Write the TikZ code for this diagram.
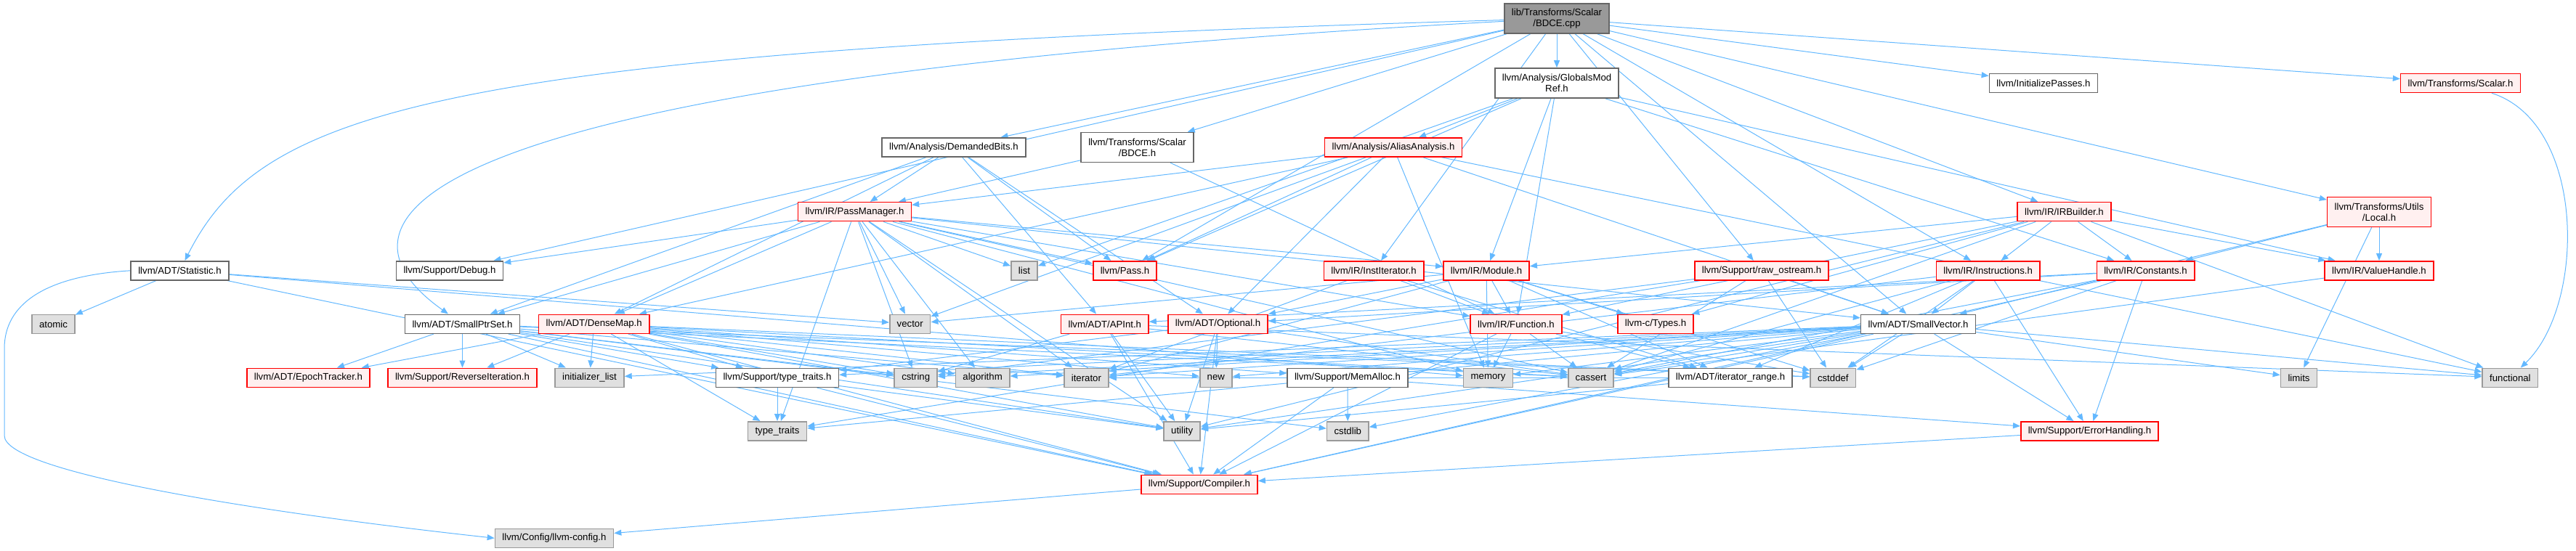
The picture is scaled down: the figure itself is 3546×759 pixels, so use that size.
\documentclass[tikz,border=0pt]{standalone}
\usepackage{fontspec}
\setmainfont{Liberation Sans}
\usetikzlibrary{arrows.meta,backgrounds}
\definecolor{edgeblue}{RGB}{99,184,255}
\definecolor{truncfill}{RGB}{255,240,240}
\definecolor{sysfill}{RGB}{224,224,224}
\definecolor{sysline}{RGB}{153,153,153}
\definecolor{hdrline}{RGB}{102,102,102}
\definecolor{srcfill}{RGB}{153,153,153}
\begin{document}
\begin{tikzpicture}[x=0.5pt,y=-0.5pt]
    \tikzstyle{box}=[rectangle, inner xsep=5pt, inner ysep=1pt, minimum height=13pt, line width=0.8pt, align=center, font=\fontsize{6.6}{7.5}\selectfont]
    \tikzstyle{hdr}=[box, draw=hdrline, fill=white]
    \tikzstyle{trunc}=[box, draw=red, fill=truncfill]
    \tikzstyle{sys}=[box, draw=sysline, fill=sysfill]
    \tikzstyle{srcfile}=[box, draw=hdrline, fill=srcfill, minimum height=20.5pt]
    \tikzstyle{inc}=[draw=edgeblue, line width=0.5pt, -{Triangle[length=5pt,width=4pt]}]
    \useasboundingbox (0,0) rectangle (3546,759);
    % the file itself
    \node[srcfile] (cpp) at (2143,25.5) {lib/Transforms/Scalar\\/BDCE.cpp};
    % rows of headers
    \node[hdr, minimum height=20.5pt] (gmr) at (2143,114.5) {llvm/Analysis/GlobalsMod\\Ref.h};
    \node[hdr] (initp) at (2813,114.5) {llvm/InitializePasses.h};
    \node[trunc] (tscalar) at (3387,114.5) {llvm/Transforms/Scalar.h};
    \node[hdr] (dbits) at (1313,203) {llvm/Analysis/DemandedBits.h};
    \node[hdr, minimum height=20.5pt] (bdceh) at (1565.5,203) {llvm/Transforms/Scalar\\/BDCE.h};
    \node[trunc] (aa) at (1918,203) {llvm/Analysis/AliasAnalysis.h};
    \node[trunc] (pm) at (1176.5,291.7) {llvm/IR/PassManager.h};
    \node[trunc] (irb) at (2841.5,291.7) {llvm/IR/IRBuilder.h};
    \node[trunc, minimum height=20.5pt] (local) at (3275,292) {llvm/Transforms/Utils\\/Local.h};
    \node[hdr] (stat) at (247.5,372.8) {llvm/ADT/Statistic.h};
    \node[hdr] (debug) at (619,372.8) {llvm/Support/Debug.h};
    \node[sys] (list) at (1410,372.8) {list};
    \node[trunc] (pass) at (1548.5,372.8) {llvm/Pass.h};
    \node[trunc] (instit) at (1891,372.8) {llvm/IR/InstIterator.h};
    \node[trunc] (module) at (2046,372.8) {llvm/IR/Module.h};
    \node[trunc] (rawos) at (2425,372.8) {llvm/Support/raw\_ostream.h};
    \node[trunc] (instr) at (2736.6,372.8) {llvm/IR/Instructions.h};
    \node[trunc] (consts) at (2953.5,372.8) {llvm/IR/Constants.h};
    \node[trunc] (vh) at (3275,372.8) {llvm/IR/ValueHandle.h};
    \node[sys] (atomic) at (73.5,446.3) {atomic};
    \node[hdr] (sptr) at (636.5,446.3) {llvm/ADT/SmallPtrSet.h};
    \node[trunc] (dmap) at (817.7,446.3) {llvm/ADT/DenseMap.h};
    \node[sys] (vector) at (1252.7,446.3) {vector};
    \node[trunc] (apint) at (1520.8,446.3) {llvm/ADT/APInt.h};
    \node[trunc] (optional) at (1676.5,446.3) {llvm/ADT/Optional.h};
    \node[trunc] (func) at (2087,446.3) {llvm/IR/Function.h};
    \node[trunc] (ctypes) at (2279,446.3) {llvm-c/Types.h};
    \node[hdr] (svec) at (2640.6,446.3) {llvm/ADT/SmallVector.h};
    \node[trunc] (epoch) at (424.4,520.3) {llvm/ADT/EpochTracker.h};
    \node[trunc] (reviter) at (636.5,520.3) {llvm/Support/ReverseIteration.h};
    \node[sys] (initlist) at (811.5,520.3) {initializer\_list};
    \node[hdr] (sttraits) at (1070,520.3) {llvm/Support/type\_traits.h};
    \node[sys] (cstring) at (1260.7,520.3) {cstring};
    \node[sys] (algorithm) at (1352.6,520.3) {algorithm};
    \node[sys] (iterator) at (1495.4,520.3) {iterator};
    \node[sys] (new) at (1673.8,520.3) {new};
    \node[hdr] (memalloc) at (1855,520.3) {llvm/Support/MemAlloc.h};
    \node[sys] (memory) at (2048.5,520.3) {memory};
    \node[sys] (cassert) at (2190,520.3) {cassert};
    \node[hdr] (itrange) at (2382,520.3) {llvm/ADT/iterator\_range.h};
    \node[sys] (cstddef) at (2523.3,520.3) {cstddef};
    \node[sys] (limits) at (3164.5,520.3) {limits};
    \node[sys] (functional) at (3455.4,520.3) {functional};
    \node[sys] (typetraits) at (1070,593.8) {type\_traits};
    \node[sys] (utility) at (1627.2,593.8) {utility};
    \node[sys] (cstdlib) at (1855.3,593.8) {cstdlib};
    \node[trunc] (errh) at (2876.5,593.8) {llvm/Support/ErrorHandling.h};
    \node[trunc] (compiler) at (1651,667.3) {llvm/Support/Compiler.h};
    \node[sys] (config) at (763,741.3) {llvm/Config/llvm-config.h};
    % include edges, under the boxes
    \begin{pgfonlayer}{background}
    % long edges that swing round the outside
    \draw[inc] (cpp) .. controls (600,70) and (360,150) .. (stat);
    \draw[inc] (cpp) .. controls (560,110) and (430,300) .. (sptr);
    \draw[inc] (stat.west) .. controls (60,380) and (6,420) .. (6,480) -- (6,600)
        .. controls (6,650) and (350,705) .. (config.west);
    \draw[inc] (tscalar) .. controls (3560,170) and (3560,420) .. (functional);
    \foreach \t in {bdceh,svec,dbits,gmr,irb,instit,instr,initp,pass,debug,rawos,tscalar,local}
        \draw[inc] (cpp) -- (\t);
    \foreach \t in {aa,consts,func,module,vh,pass,list}
        \draw[inc] (gmr) -- (\t);
    \foreach \t in {func,pm}
        \draw[inc] (bdceh) -- (\t);
    \foreach \t in {apint,dmap,optional,sptr,pm,pass}
        \draw[inc] (dbits) -- (\t);
    \foreach \t in {dmap,optional,svec,pm,pass,functional,memory,vector}
        \draw[inc] (aa) -- (\t);
    \foreach \t in {dmap,sptr,svec,func,module,pass,debug,cassert,cstring,iterator,list,memory,typetraits,utility,vector,algorithm}
        \draw[inc] (pm) -- (\t);
    \foreach \t in {atomic,compiler,memory,vector}
        \draw[inc] (stat) -- (\t);
    \foreach \t in {itrange,func,iterator}
        \draw[inc] (instit) -- (\t);
    \foreach \t in {ctypes,optional,itrange,func,cstddef,iterator,memory,vector}
        \draw[inc] (module) -- (\t);
    \foreach \t in {svec,cassert,cstddef,cstring,typetraits}
        \draw[inc] (rawos) -- (\t);
    \foreach \t in {svec,itrange,errh,cassert,cstddef,iterator}
        \draw[inc] (instr) -- (\t);
    \foreach \t in {apint,optional,compiler,errh,cassert,cstddef}
        \draw[inc] (consts) -- (\t);
    \foreach \t in {ctypes,consts,func,instr,module,vh,cassert,functional,utility}
        \draw[inc] (irb) -- (\t);
    \foreach \t in {consts,vh,svec,limits}
        \draw[inc] (local) -- (\t);
    \draw[inc] (vh) -- (cassert);
    \foreach \t in {epoch,reviter,initlist,sttraits,compiler,cstddef,cstdlib,cstring,iterator,utility,cassert}
        \draw[inc] (sptr) -- (\t);
    \foreach \t in {epoch,reviter,initlist,sttraits,compiler,memalloc,algorithm,cassert,cstddef,cstring,iterator,new,typetraits,utility}
        \draw[inc] (dmap) -- (\t);
    \foreach \t in {compiler,sttraits,algorithm,cassert,cstddef,cstdlib,cstring,functional,initlist,iterator,limits,memory,new,typetraits,utility,errh}
        \draw[inc] (svec) -- (\t);
    \foreach \t in {compiler,cassert,cstring,functional,utility}
        \draw[inc] (apint) -- (\t);
    \foreach \t in {compiler,sttraits,cassert,new,utility}
        \draw[inc] (optional) -- (\t);
    \foreach \t in {itrange,compiler,cassert,cstddef,memory}
        \draw[inc] (func) -- (\t);
    \foreach \t in {compiler,errh,cstdlib}
        \draw[inc] (memalloc) -- (\t);
    \foreach \t in {compiler,typetraits,utility}
        \draw[inc] (sttraits) -- (\t);
    \foreach \t in {iterator,utility}
        \draw[inc] (itrange) -- (\t);
    \draw[inc] (errh) -- (compiler);
    \draw[inc] (compiler) -- (config);
    \end{pgfonlayer}
\end{tikzpicture}
\end{document}
